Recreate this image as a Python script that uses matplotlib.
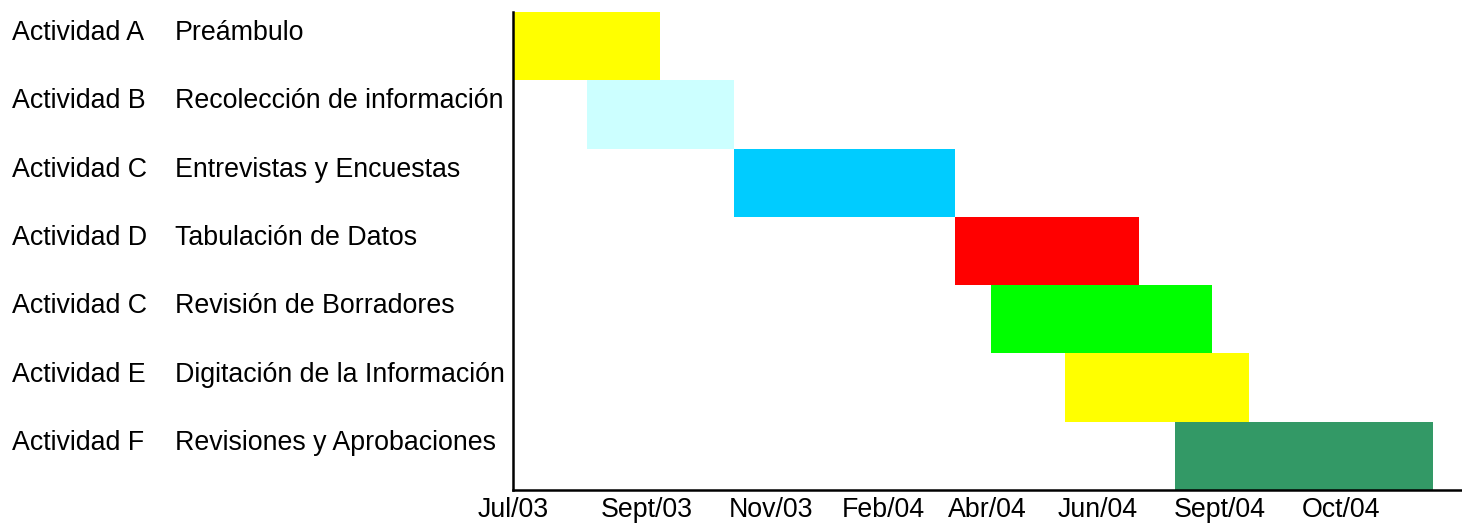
import matplotlib
matplotlib.use("Agg")
import matplotlib.pyplot as plt
from matplotlib.transforms import blended_transform_factory

plt.rcParams["font.family"] = ["Liberation Sans", "DejaVu Sans"]

# Gantt data (units: half-months from Jul/03)
activities = ["Actividad A", "Actividad B", "Actividad C", "Actividad D",
              "Actividad C", "Actividad E", "Actividad F"]
tasks = ["Preámbulo", "Recolección de información", "Entrevistas y Encuestas",
         "Tabulación de Datos", "Revisión de Borradores",
         "Digitación de la Información", "Revisiones y Aprobaciones"]
starts = [0, 2, 6, 12, 13, 15, 18]
durations = [4, 4, 6, 5, 6, 5, 7]
colors = ["#FFFF00", "#CCFFFF", "#00CCFF", "#FF0000", "#00FF00", "#FFFF00", "#339966"]

tick_pos = [0, 3.64, 7.0, 10.06, 12.9, 15.88, 19.21, 22.5]
tick_labels = ["Jul/03", "Sept/03", "Nov/03", "Feb/04", "Abr/04",
               "Jun/04", "Sept/04", "Oct/04"]

fs = 19.3

fig = plt.figure(figsize=(14.62, 5.24), dpi=100)
ax = fig.add_axes([513 / 1462, 1 - 490 / 524, 1 - 513 / 1462, (490 - 12) / 524])

rows = range(len(tasks))
ax.barh([r + 0.5 for r in rows], durations, left=starts, height=1.0,
        color=colors, linewidth=0)

ax.set_xlim(0, 25.79)
ax.set_ylim(len(tasks), 0)

for side in ["top", "right"]:
    ax.spines[side].set_visible(False)
for side in ["left", "bottom"]:
    ax.spines[side].set_linewidth(1.8)
    ax.spines[side].set_color("black")

ax.set_yticks([])
ax.set_xticks(tick_pos)
ax.set_xticklabels(tick_labels, fontsize=fs)
ax.tick_params(axis="x", length=0, pad=5)

tr = blended_transform_factory(fig.transFigure, ax.transData)
for r in rows:
    ax.text(12 / 1462, r + 0.31, activities[r], transform=tr, fontsize=fs,
            ha="left", va="center")
    ax.text(175 / 1462, r + 0.31, tasks[r], transform=tr, fontsize=fs,
            ha="left", va="center")

fig.savefig("out.png", dpi=100)
